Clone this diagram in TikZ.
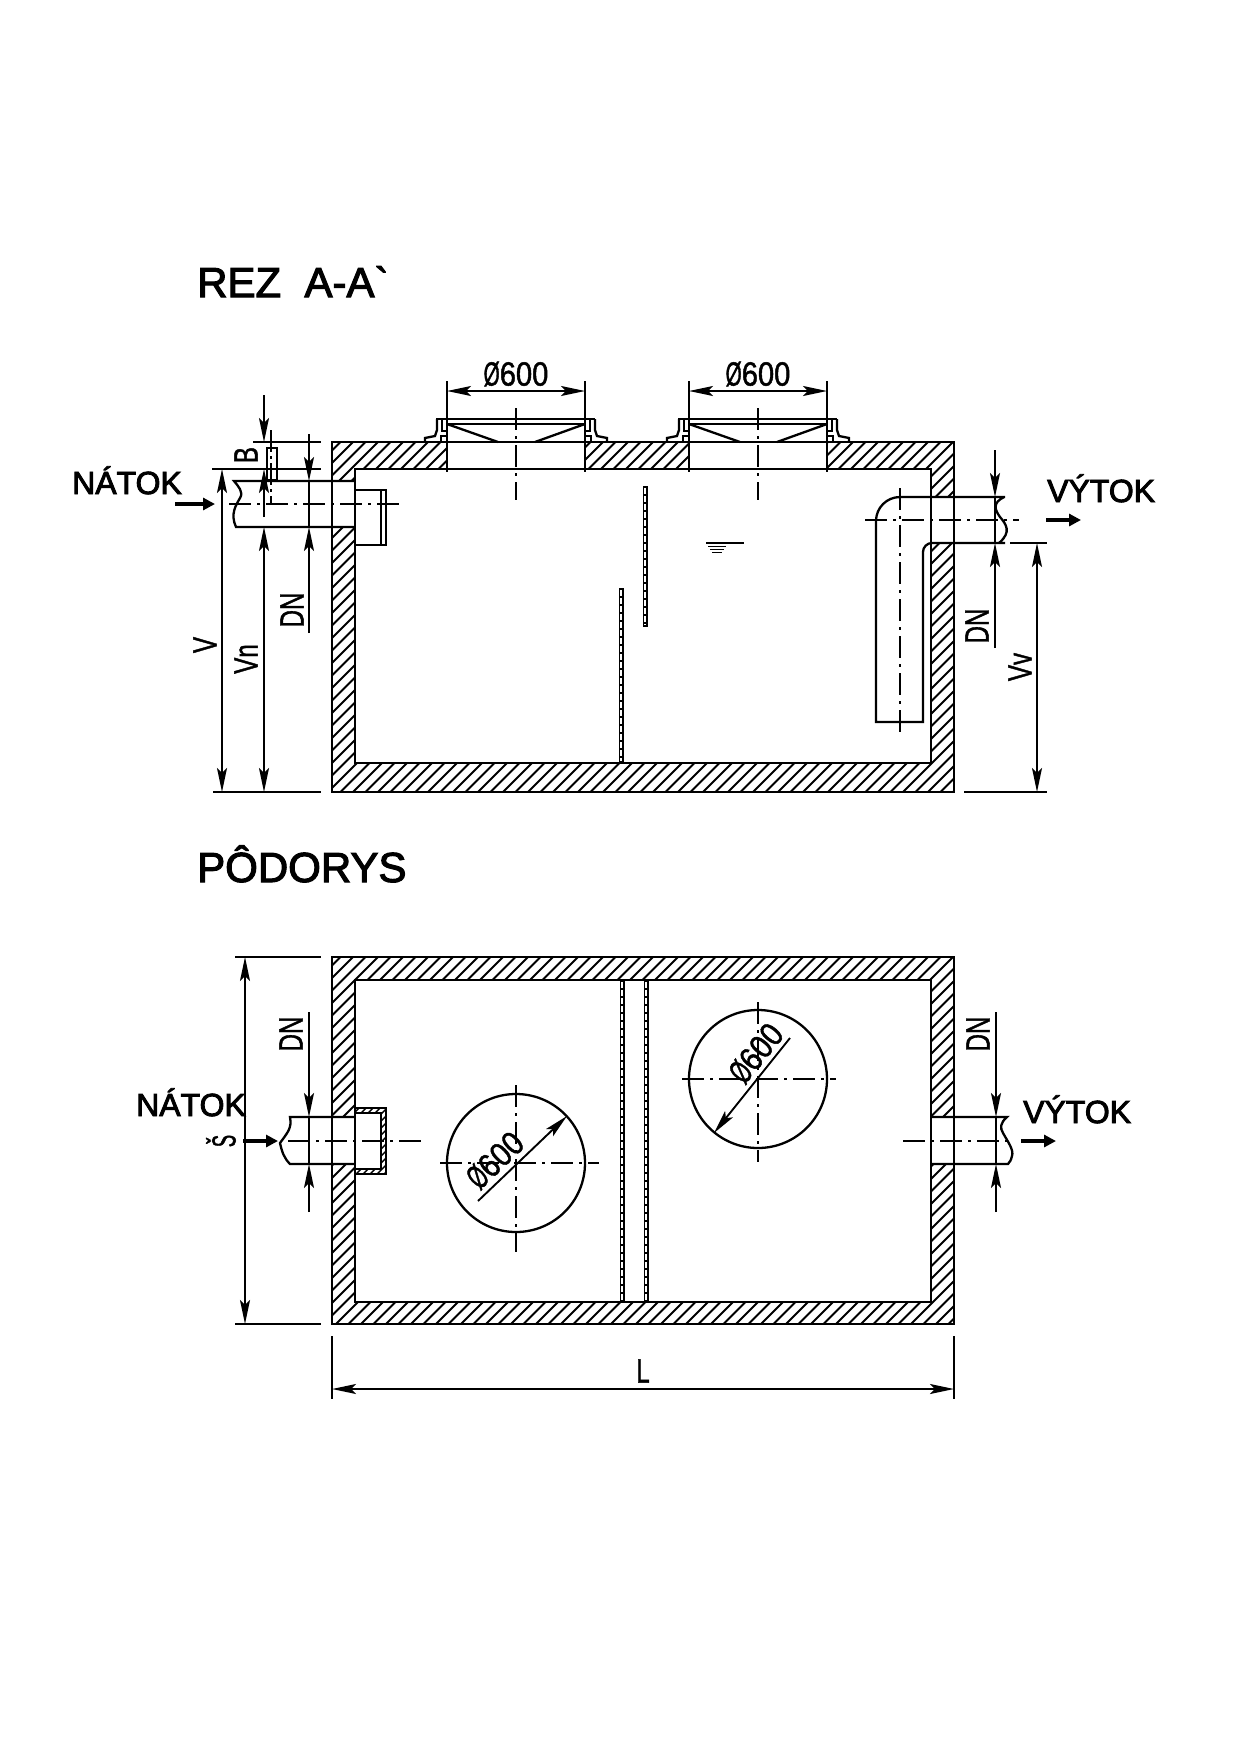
\documentclass[tikz,border=0pt]{standalone}
\usepackage{fontspec}
\usepackage{graphicx}
\setmainfont{Liberation Sans}
\newfontfamily\headfont{Liberation Sans}
\usetikzlibrary{arrows.meta}
\newcommand\heavytxt[2]{\special{pdf:code 2 Tr #1 w}#2\special{pdf:code 0 Tr 1 w}}
\newcommand\cadtxt[2][.72]{\scalebox{#1}[1]{\fontsize{33.5}{33.5}\selectfont\heavytxt{0.5}{#2}}}
\newcommand\diatxt{{\fontsize{33.5}{33.5}\selectfont\heavytxt{0.5}{\scalebox{.62}[1]{Ø}\scalebox{.87}[1]{600}}}}
\tikzset{
  wall/.style={line width=2.9pt,line cap=rect},
  thin line/.style={line width=2.3pt},
  hatchline/.style={line width=2pt},
  dimline/.style={line width=1.9pt},
  dimtip/.style={dimline,{Stealth[length=24pt,width=10pt,inset=5pt]}-{Stealth[length=24pt,width=10pt,inset=5pt]}},
  dimend/.style={dimline,-{Stealth[length=24pt,width=10pt,inset=5pt]}},
  center line/.style={line width=1.9pt,dash pattern=on 22pt off 6pt on 3pt off 6pt},
  flow/.style={line width=3.4pt,-{Triangle[length=12pt,width=12pt]}},
  title/.style={anchor=base west,inner sep=0pt,font=\headfont\fontsize{42}{42}\selectfont},
  flowtxt/.style={anchor=base west,inner sep=0pt,font=\headfont\fontsize{32}{32}\selectfont},
  dimtxt/.style={inner sep=0pt},
  baffleouter/.style={line width=5pt,black},
  baffleinner/.style={line width=1.1pt,white,dash pattern=on 6pt off 2pt}
}
\begin{document}
\begin{tikzpicture}[x=1pt,y=-1pt]
\useasboundingbox (0,0) rectangle (1240,1754);
\fill[white] (0,0) rectangle (1240,1754);

% ---------- titles
\node[title] (t1) at (197,297) {\heavytxt{1.1}{REZ\ \ A-A`}};
\node[title] (t2) at (197,882) {\heavytxt{1.1}{PÔDORYS}};

% ---------- section hatching
\begin{scope}
\clip (332,442) rectangle (447,469) (585,442) rectangle (689,469) (827,442) rectangle (954,469)
      (332,469) rectangle (355,481) (332,527) rectangle (355,792)
      (355,763) rectangle (931,792)
      (931,469) rectangle (954,497) (931,543) rectangle (954,792);
\foreach \c in {770,782.5,...,1750}
  \draw[hatchline] (\c-400,400) -- (\c-850,850);
\end{scope}
% section walls
\draw[wall] (332,442) rectangle (954,792);
\draw[wall] (355,469) rectangle (931,763);
\foreach \x in {447,585,689,827}
  \draw[thin line] (\x,381) -- (\x,472);

% covers
\foreach \o in {0,242}{
  \begin{scope}[xshift=\o pt]
  \draw[wall] (437,419) -- (594,419);
  \draw[thin line] (447,424) -- (585,424);
  \draw[thin line] (447,424) -- (498,442);
  \draw[thin line] (585,424) -- (535,442);
  \draw[thin line] (425,442) -- (425,438) -- (435,436) -- (437,430) -- (437,419);
  \draw[thin line] (442,419) -- (442,431) -- (447,431);
  \draw[thin line] (441,442) -- (441,436) -- (447,436);
  \draw[thin line] (607,442) -- (607,438) -- (597,436) -- (595,430) -- (595,419);
  \draw[thin line] (590,419) -- (590,431) -- (585,431);
  \draw[thin line] (591,442) -- (591,436) -- (585,436);
  \draw[center line] (516,408) -- (516,500);
  \end{scope}
}
\draw[dimtip] (447,391) -- (585,391);
\draw[dimtip] (689,391) -- (827,391);
\node[dimtxt] (d1) at (516,374) {\diatxt};
\node[dimtxt] (d2) at (758,374) {\diatxt};

% inlet, section
\draw[thin line] (355,481) -- (234,481) .. controls (238,486) and (244,492) .. (240,498)
   .. controls (236,505) and (230,514) .. (236,527) -- (355,527);
\draw[thin line] (355,490) rectangle (386,545);
\draw[thin line] (381,490) -- (381,545);
\draw[center line] (229,504) -- (404,504);
\draw[thin line] (267,448) rectangle (277,480);
\draw[line width=1.5pt,dash pattern=on 22pt off 4pt on 3pt off 4pt] (271,430) -- (271,504);

% outlet, section
\draw[thin line] (1005,497) -- (900,497) arc[start angle=-90,end angle=-180,radius=24] -- (876,722) -- (923,722)
   -- (923,552) arc[start angle=180,end angle=270,radius=9] -- (1005,543);
\draw[thin line] (1004,497) .. controls (992,503) and (995,510) .. (1000,517)
   .. controls (1006,524) and (1012,532) .. (999,543);
\draw[center line] (865,520) -- (1019,520);
\draw[center line] (900,488) -- (900,733);

% baffles, section
\draw[baffleouter] (645,486) -- (645,627);
\draw[baffleinner] (645,488) -- (645,625);
\draw[baffleouter] (621,588) -- (621,763);
\draw[baffleinner] (621,590) -- (621,761);

% water level
\draw[thin line] (706,543) -- (744,543);
\draw[line width=1.7pt] (708,546.5) -- (726,546.5);
\draw[line width=1.7pt] (710,549.5) -- (724,549.5);
\draw[line width=1.7pt] (712,552.5) -- (722,552.5);

% section dimensions left
\draw[dimline] (212,469) -- (321,469);
\draw[dimline] (253,442) -- (321,442);
\draw[dimline] (213,792) -- (321,792);
\draw[dimtip] (222,469) -- (222,792);
\draw[dimtip] (264,527) -- (264,792);
\draw[dimend] (264,395) -- (264,442);
\draw[dimend] (264,517) -- (264,469);
\draw[dimend] (309,434) -- (309,481);
\draw[dimend] (309,633) -- (309,527);
\draw[dimline] (309,481) -- (309,527);
\node[dimtxt,rotate=90] (vv1) at (205,645) {\cadtxt{V}};
\node[dimtxt,rotate=90] (vn) at (246,659) {\cadtxt{Vn}};
\node[dimtxt,rotate=90] (dn1) at (292,610) {\cadtxt{DN}};
\node[dimtxt,rotate=90] (bb) at (246,455) {\cadtxt{B}};

% section dimensions right
\draw[dimend] (995,450) -- (995,497);
\draw[dimend] (995,648) -- (995,543);
\draw[dimline] (995,497) -- (995,543);
\draw[dimline] (1010,543) -- (1047,543);
\draw[dimline] (964,792) -- (1047,792);
\draw[dimtip] (1037,543) -- (1037,792);
\node[dimtxt,rotate=90] (dn2) at (977,626) {\cadtxt{DN}};
\node[dimtxt,rotate=90] (vw) at (1020,667) {\cadtxt{Vv}};

% flow labels, section
\node[flowtxt] (nat1) at (72,494) {\heavytxt{0.9}{NÁTOK}};
\node[flowtxt] (vyt1) at (1047,502) {\heavytxt{0.9}{VÝTOK}};
\coordinate (f1a) at (175,504); \coordinate (f1b) at (215,504);
\coordinate (f2a) at (1046,520); \coordinate (f2b) at (1081,520);
\draw[flow] (f1a) -- (f1b);
\draw[flow] (f2a) -- (f2b);

% ---------- plan hatching
\begin{scope}
\clip (332,957) rectangle (954,980) (332,1302) rectangle (954,1324)
      (332,980) rectangle (355,1117) (332,1164) rectangle (355,1302)
      (931,980) rectangle (954,1117) (931,1164) rectangle (954,1302);
\foreach \c in {1285,1297.5,...,2285}
  \draw[hatchline] (\c-900,900) -- (\c-1400,1400);
\end{scope}
\begin{scope}
\clip (355,1108) rectangle (386,1113) (355,1169) rectangle (386,1174) (381,1113) rectangle (386,1169);
\foreach \c in {1460,1467,...,1570}
  \draw[line width=1.4pt] (\c-1100,1100) -- (\c-1180,1180);
\end{scope}
\draw[wall] (332,957) rectangle (954,1324);
\draw[wall] (355,980) rectangle (931,1302);

% baffles, plan
\foreach \x in {622,646}{
  \draw[baffleouter] (\x,980) -- (\x,1302);
  \draw[baffleinner] (\x,982) -- (\x,1300);
}

% inlet, plan
\draw[thin line] (355,1117) -- (290,1117) .. controls (292,1128) and (288,1132) .. (280,1143)
   .. controls (282,1152) and (284,1158) .. (290,1164) -- (355,1164);
\draw[thin line] (355,1108) -- (386,1108) -- (386,1174) -- (355,1174);
\draw[thin line] (355,1113) -- (381,1113) -- (381,1169) -- (355,1169);
\draw[center line] (288,1141) -- (421,1141);

% outlet, plan
\draw[thin line] (931,1117) -- (1007,1117) .. controls (1000,1123) and (1000,1128) .. (1003,1133)
   .. controls (1008,1142) and (1014,1150) .. (1012,1156) .. controls (1011,1160) and (1010,1162) .. (1008,1164) -- (931,1164);
\draw[center line] (903,1141) -- (1012,1141);

% circles
\node[circle,draw,line width=2.3pt,minimum size=138pt,inner sep=0pt] (c1) at (516,1163) {};
\node[circle,draw,line width=2.3pt,minimum size=138pt,inner sep=0pt] (c2) at (758,1079) {};
\draw[center line] (440,1163) -- (599,1163);
\draw[center line] (516,1085) -- (516,1252);
\draw[center line] (682,1079) -- (836,1079);
\draw[center line] (758,1002) -- (758,1162);
\coordinate (a1) at (478,1201); \coordinate (a2) at (567,1116);
\coordinate (b1) at (790,1038); \coordinate (b2) at (714,1133);
\draw[dimend] (a1) -- (a2);
\draw[dimend] (b1) -- (b2);
\node[dimtxt,rotate=44] (d3) at (495,1160) {\diatxt};
\node[dimtxt,rotate=51] (d4) at (756,1053) {\diatxt};

% plan dimensions
\draw[dimline] (235,957) -- (321,957);
\draw[dimline] (235,1324) -- (321,1324);
\draw[dimtip] (245,957) -- (245,1324);
\draw[dimend] (309,1012) -- (309,1117);
\draw[dimend] (309,1212) -- (309,1164);
\draw[dimline] (309,1117) -- (309,1164);
\draw[dimend] (996,1012) -- (996,1117);
\draw[dimend] (996,1212) -- (996,1164);
\draw[dimline] (996,1117) -- (996,1164);
\node[dimtxt,rotate=90] (dn3) at (291,1034) {\cadtxt{DN}};
\node[dimtxt,rotate=90] (dn4) at (978,1034) {\cadtxt{DN}};
\node[dimtxt,rotate=90] (ss) at (221,1141) {\cadtxt[.55]{Š}};
\draw[dimline] (332,1336) -- (332,1399);
\draw[dimline] (954,1336) -- (954,1399);
\draw[dimtip] (332,1389) -- (954,1389);
\node[dimtxt] (ll) at (643,1371) {\cadtxt{L}};

% flow labels, plan
\node[flowtxt] (nat2) at (136,1116) {\heavytxt{0.9}{NÁTOK}};
\node[flowtxt] (vyt2) at (1023,1123) {\heavytxt{0.9}{VÝTOK}};
\coordinate (f3a) at (243,1141); \coordinate (f3b) at (278,1141);
\coordinate (f4a) at (1021,1141); \coordinate (f4b) at (1056,1141);
\draw[flow] (f3a) -- (f3b);
\draw[flow] (f4a) -- (f4b);
\end{tikzpicture}
\end{document}
